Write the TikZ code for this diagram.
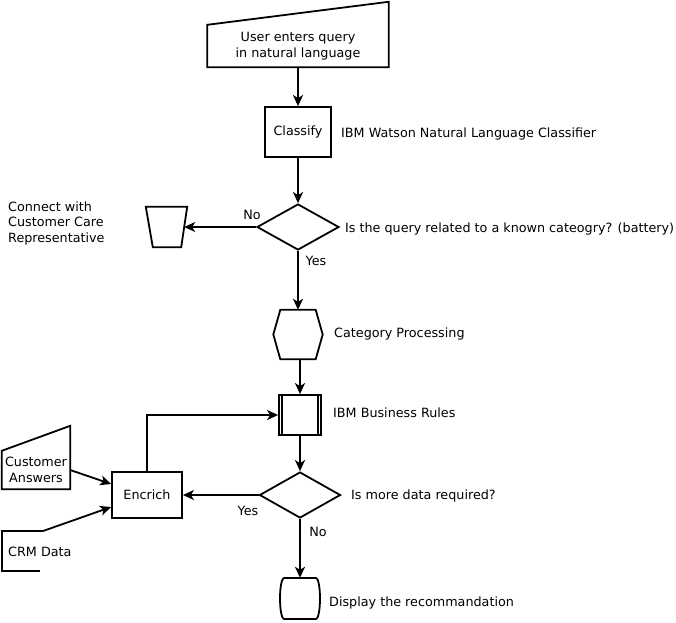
\documentclass[tikz,border=0pt]{standalone}
\usepackage{fontspec}
\setmainfont{DejaVu Sans}
\usetikzlibrary{arrows.meta,shapes.geometric}
\tikzset{
    process-box/.style = {draw, rectangle, line width=1.8pt, inner sep=0pt},
    decision/.style = {draw, diamond, line width=1.8pt, inner sep=0pt, minimum width=82pt, minimum height=46pt},
    shape-outline/.style = {line width=1.8pt},
    shape-text/.style = {inner sep=0pt, align=center},
    side-label/.style = {anchor=west, inner sep=0pt, align=left},
    flow-arrow/.style = {line width=1.8pt, -{Stealth[length=11pt,width=10pt,inset=3pt]}},
}

\begin{document}
\begin{tikzpicture}[x=1pt, y=-1pt, font=\fontsize{12.75}{15.5}\selectfont]
\useasboundingbox (0,0) rectangle (676,622);

% query input
\node [shape-text, minimum width=181pt, minimum height=42pt] (query) at (298,46) {User enters query\\in natural language};
\draw [shape-outline] (query.south west) -- (query.north west) -- ([yshift=23pt]query.north east) -- (query.south east) -- cycle;

\node [process-box, minimum width=66pt, minimum height=50pt] (classify) at (298,132) {Classify};
\node [side-label] (classifier) at (341,134) {IBM Watson Natural Language Classifier};

\node [decision] (known) at (298,227) {};
\node [side-label] (known-text) at (345,229) {Is the query related to a known cateogry? (battery)};

% customer care
\node [shape-text, minimum width=41pt, minimum height=40pt] (care) at (166.5,227) {};
\draw [shape-outline] (care.north west) -- (care.north east) -- ([xshift=-6pt]care.south east) -- ([xshift=7pt]care.south west) -- cycle;
\node [side-label] (care-text) at (8,223) {Connect with\\Customer Care\\Representative};

\node [shape-text, minimum width=35pt, minimum height=49pt] (category) at (298,334.5) {};
\draw [shape-outline] (category.north west) -- (category.north east) -- ([xshift=7pt]category.east) -- (category.south east) -- (category.south west) -- ([xshift=-7pt]category.west) -- cycle;
\node [side-label] (category-text) at (334,334) {Category Processing};

\node [process-box, minimum width=42pt, minimum height=40pt] (rules) at (300,415) {};
\draw [shape-outline] ([xshift=4pt]rules.north west) -- ([xshift=4pt]rules.south west)
    ([xshift=-4pt]rules.north east) -- ([xshift=-4pt]rules.south east);
\node [side-label] (rules-text) at (333,413) {IBM Business Rules};

\node [decision, minimum width=81pt] (moredata) at (300,495) {};
\node [side-label] (moredata-text) at (351,496) {Is more data required?};

\node [process-box, minimum width=70pt, minimum height=46pt] (enrich) at (147,495) {Encrich};

% terminal
\node [shape-text, minimum width=40pt, minimum height=41pt] (display) at (300,598.5) {};
\draw [shape-outline, shift={(display.center)}] (-16,-20.5) -- (16,-20.5) .. controls (19,-19.5) and (20,-8) .. (20,0) .. controls (20,8) and (19,19.5) .. (16,20.5) -- (-16,20.5) .. controls (-19,19.5) and (-20,8) .. (-20,0) .. controls (-20,-8) and (-19,-19.5) .. (-16,-20.5) -- cycle;
\node [side-label] (display-text) at (329,603) {Display the recommandation};

% data sources
\node [shape-text, minimum width=68pt, minimum height=38pt] (answers) at (36,470) {Customer\\Answers};
\draw [shape-outline] (answers.south west) -- (answers.north west) -- ([yshift=25pt]answers.north east) -- (answers.south east) -- cycle;

\node [side-label] (crm) at (8,552) {CRM Data};
\coordinate (crm-top) at (43,531);
\draw [shape-outline] (crm-top) -- (2,531) -- (2,571) -- (40,571);

% connectors
\draw [flow-arrow] (query.south) -- (classify.north);
\draw [flow-arrow] (classify.south) -- (known.north);
\draw [flow-arrow] (known.west) -- ([xshift=-3pt]care.east);
\node (no-care) at (252,215) {No};
\draw [flow-arrow] (known.south) -- (category.north);
\node (yes-known) at (316,261) {Yes};
\draw [flow-arrow] (category.south -| rules.north) -- (rules.north);
\draw [flow-arrow] (rules.south) -- (moredata.north);
\draw [flow-arrow] (moredata.west) -- (enrich.east);
\node (yes-more) at (248,511) {Yes};
\draw [flow-arrow] (moredata.south) -- (display.north);
\node (no-more) at (318,532) {No};
\draw [flow-arrow] (enrich.north) |- (rules.west);
\draw [flow-arrow] (answers.east) -- ([yshift=11pt]enrich.west);
\draw [flow-arrow] (crm-top) -- ([yshift=-12pt]enrich.west);
\end{tikzpicture}
\end{document}
